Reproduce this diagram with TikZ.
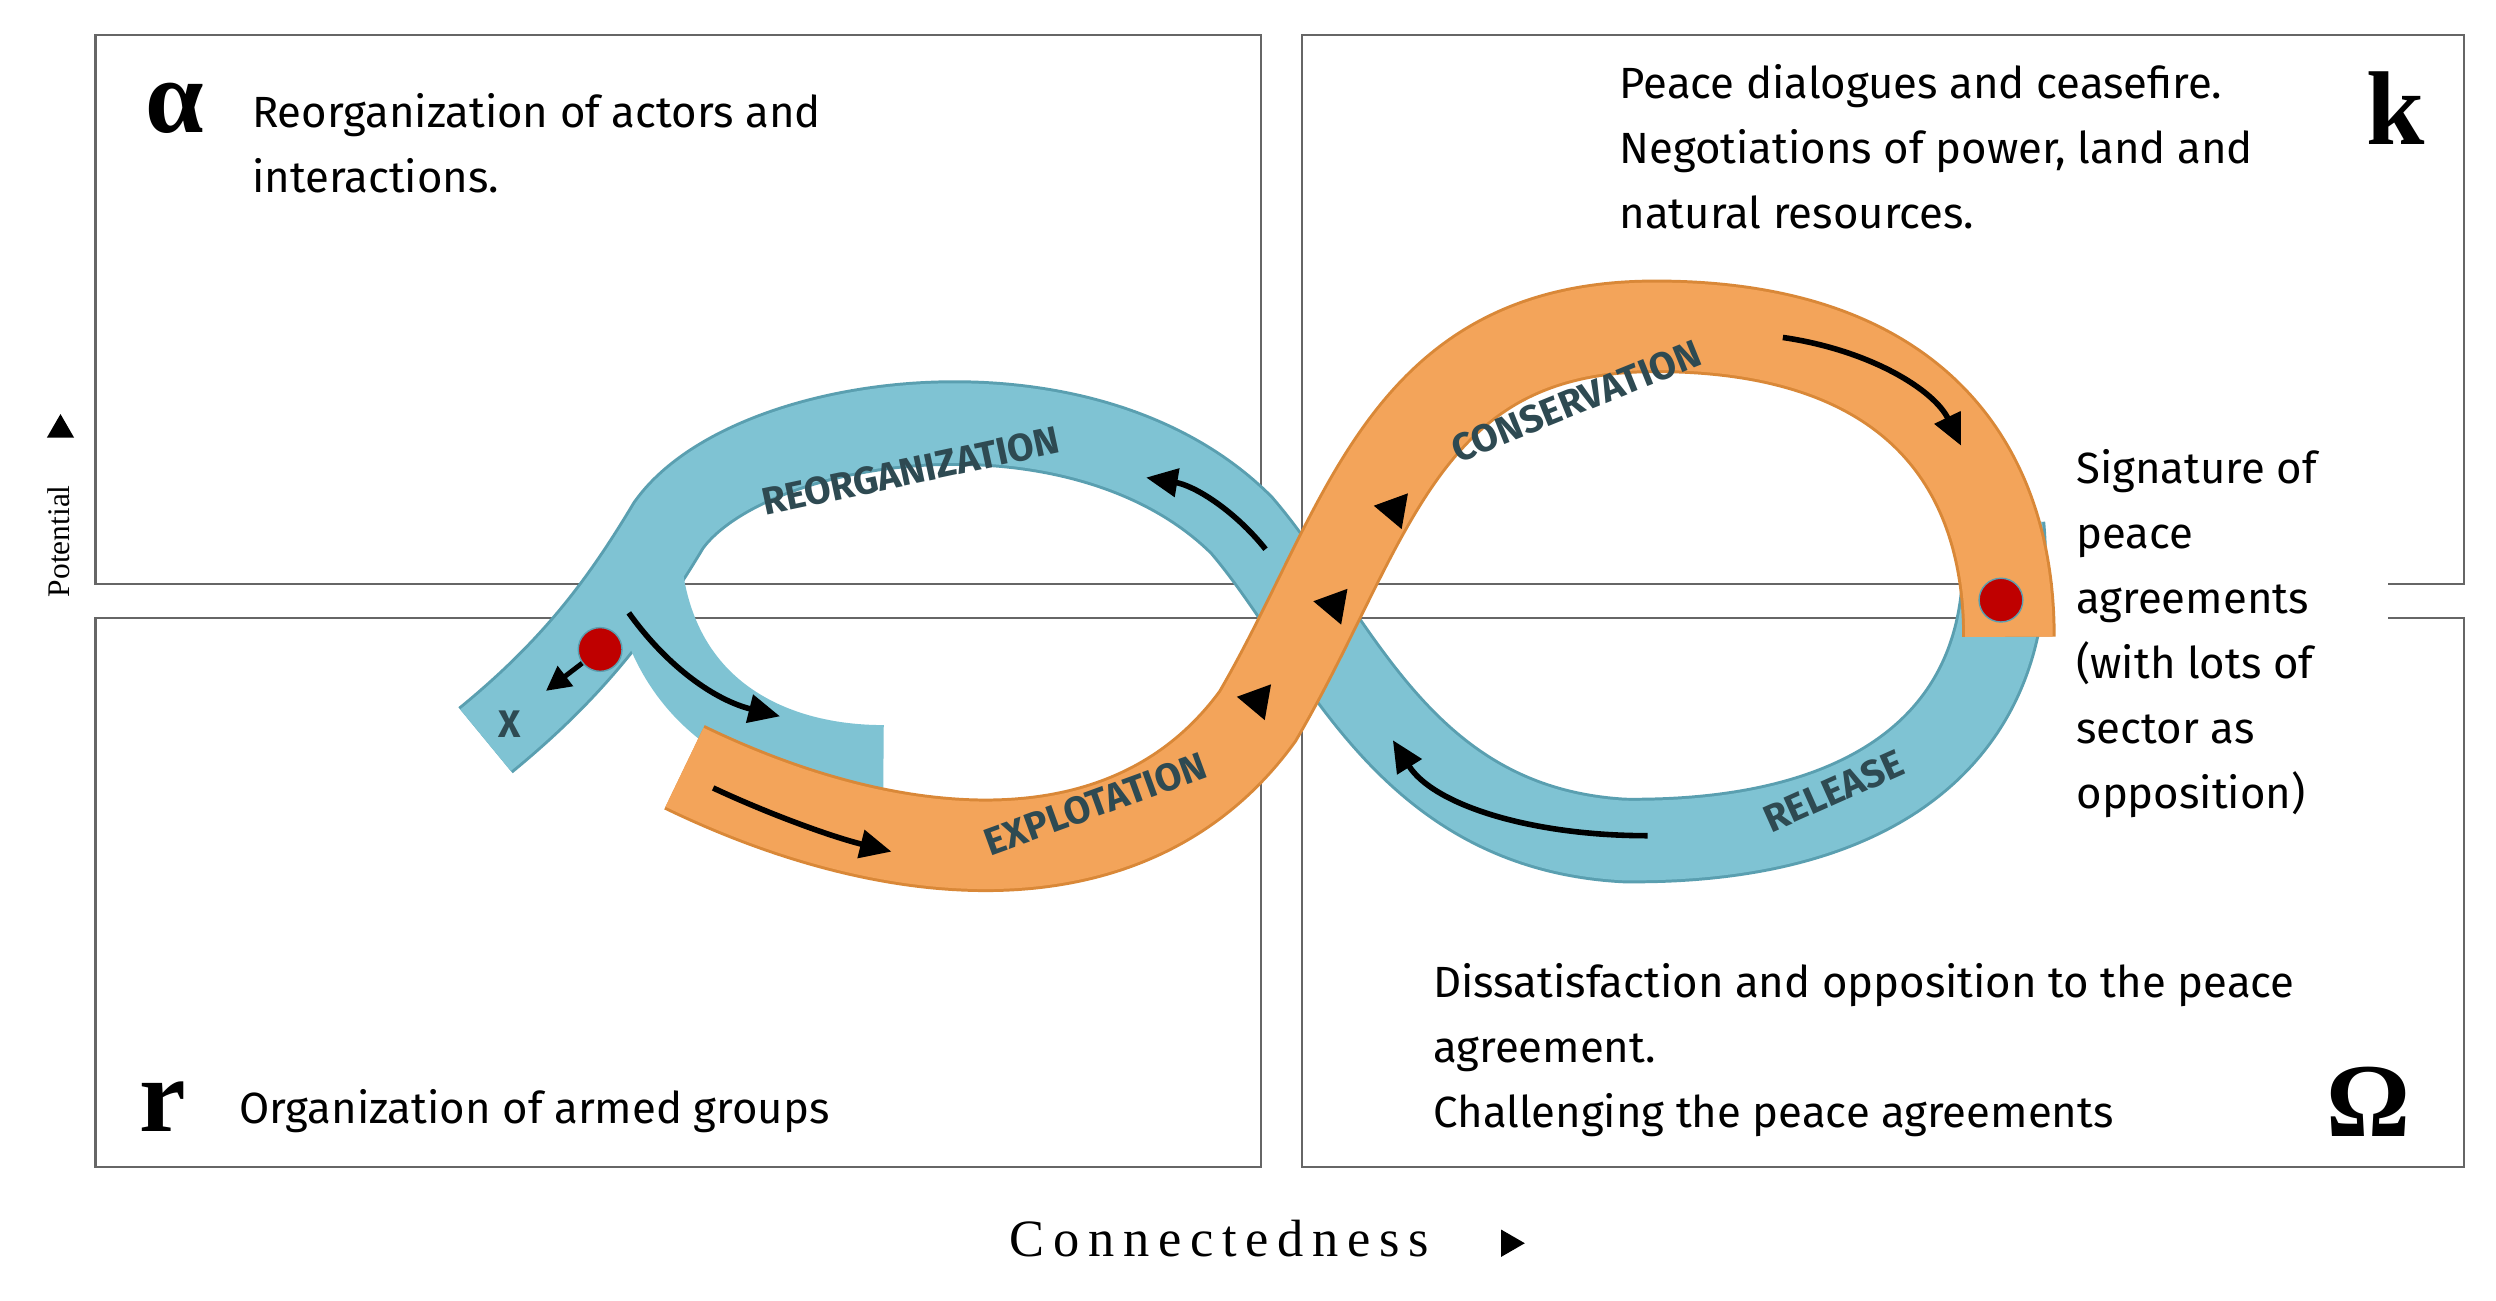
\documentclass[tikz,border=0pt]{standalone}
\usepackage{fontspec}
\setmainfont{Liberation Serif}
\newfontfamily\gsans{Fira Sans}
\usetikzlibrary{arrows.meta,shapes.geometric}
\definecolor{blu}{HTML}{7FC3D3}
\definecolor{blud}{HTML}{5A9FB0}
\definecolor{ora}{HTML}{F3A45A}
\definecolor{orad}{HTML}{D98838}
\definecolor{lbl}{HTML}{2E4A52}
\begin{document}
\begin{tikzpicture}[x=0.016cm,y=-0.016cm,
  box/.style={draw=black!60,line width=0.6pt},
  txt/.style={font=\gsans\fontsize{12.5}{18.6}\selectfont,align=left,anchor=north west,inner sep=0},
  big/.style={font=\bfseries\fontsize{30}{30}\selectfont,inner sep=0},
  rib/.style={font=\gsans\bfseries\fontsize{11}{11}\selectfont,text=lbl,inner sep=0},
  arr/.style={line width=1.6pt,-{Triangle[length=9pt,width=8pt]}},
  tri/.style={fill=black,regular polygon,regular polygon sides=3}]
\useasboundingbox (0,0) rectangle (1568,817);
\fill[white] (0,0) rectangle (1568,817);
\draw[box] (60,22) rectangle (792,367);
\draw[box] (818,22) rectangle (1548,367);
\draw[box] (60,388) rectangle (792,733);
\draw[box] (818,388) rectangle (1548,733);
\fill[white] (1290,360) rectangle (1500,395);
% blue ribbon
\draw[blud,line width=0.86cm,line cap=butt] (305,465) .. controls (360,420) and (390,380) .. (420,330) .. controls (470,260) and (680,230) .. (780,330) .. controls (840,400) and (880,520) .. (1020,528) .. controls (1180,530) and (1270,460) .. (1258,330);
\draw[blu,line width=0.8cm,line cap=butt] (305,465) .. controls (360,420) and (390,380) .. (420,330) .. controls (470,260) and (680,230) .. (780,330) .. controls (840,400) and (880,520) .. (1020,528) .. controls (1180,530) and (1270,460) .. (1258,330);
\draw[blu,line width=0.72cm,line cap=butt] (405,345) .. controls (410,440) and (480,478) .. (555,478);
% orange ribbon
\draw[orad,line width=0.94cm,line cap=butt] (430,482) .. controls (560,545) and (710,560) .. (790,450) .. controls (860,330) and (880,205) .. (1040,205) .. controls (1200,205) and (1262,290) .. (1262,400);
\draw[ora,line width=0.88cm,line cap=butt] (430,482) .. controls (560,545) and (710,560) .. (790,450) .. controls (860,330) and (880,205) .. (1040,205) .. controls (1200,205) and (1262,290) .. (1262,400);
% ribbon labels
\node[rib,rotate=12] (reo) at (572,296) {REORGANIZATION};
\node[rib,rotate=22] (con) at (990,252) {CONSERVATION};
\node[rib,rotate=20] (exp) at (688,505) {EXPLOTATION};
\node[rib,rotate=24] (rel) at (1152,497) {RELEASE};
\node[rib] (x) at (320,455) {X};
% arrows
\coordinate (a1s) at (395,385); \coordinate (a1e) at (490,450);
\draw[arr] (a1s) .. controls (420,420) and (450,440) .. (a1e);
\coordinate (a2s) at (448,495); \coordinate (a2e) at (560,535);
\draw[arr] (a2s) .. controls (480,510) and (520,525) .. (a2e);
\coordinate (a3s) at (795,345); \coordinate (a3e) at (720,300);
\draw[arr] (a3s) .. controls (775,320) and (750,305) .. (a3e);
\coordinate (a4s) at (1120,212); \coordinate (a4e) at (1232,280);
\draw[arr] (a4s) .. controls (1175,220) and (1215,245) .. (a4e);
\coordinate (a5s) at (1035,525); \coordinate (a5e) at (875,465);
\draw[arr] (a5s) .. controls (960,525) and (900,505) .. (a5e);
\node[tri,minimum size=12pt,inner sep=0,rotate=200] (t1) at (876,320) {};
\node[tri,minimum size=12pt,inner sep=0,rotate=200] (t2) at (838,380) {};
\node[tri,minimum size=12pt,inner sep=0,rotate=200] (t3) at (790,440) {};
\node[circle,fill=red!75!black,draw=blud,minimum size=0.44cm,inner sep=0] (d1) at (377,408) {};
\node[circle,fill=red!75!black,draw=blud,minimum size=0.44cm,inner sep=0] (d2) at (1257,377) {};
\coordinate (d1e) at (343,434);
\draw[line width=1.4pt,-{Triangle[length=7pt,width=7pt]}] (d1) -- (d1e);
% quadrant texts
\node[big] (al) at (110,68) {α};
\node[big] (ka) at (1505,68) {k};
\node[big] (ar) at (102,695) {r};
\node[big] (om) at (1488,692) {Ω};
\node[txt] (ta) at (158,58) {Reorganization of actors and\\interactions.};
\node[txt] (tk) at (1017,40) {Peace dialogues and ceasefire.\\Negotiations of power, land and\\natural resources.};
\node[txt] (ts) at (1304,282) {Signature of\\peace\\agreements\\(with lots of\\sector as\\opposition)};
\node[txt] (tr) at (150,684) {Organization of armed groups};
\node[txt] (to) at (900,605) {Dissatisfaction and opposition to the peace\\agreement.\\Challenging the peace agreements};
% axes
\node[rotate=90,font=\fontsize{9}{9}\selectfont] (pot) at (37,340) {Potential};
\node[tri,minimum size=9pt,inner sep=0] (pt) at (38,270) {};
\node[font=\fontsize{15}{15}\selectfont,inner sep=0] (cn) at (766,778) {C\,o\,n\,n\,e\,c\,t\,e\,d\,n\,e\,s\,s};
\node[tri,minimum size=9pt,inner sep=0,rotate=-90] (ct) at (948,781) {};
\end{tikzpicture}
\end{document}
